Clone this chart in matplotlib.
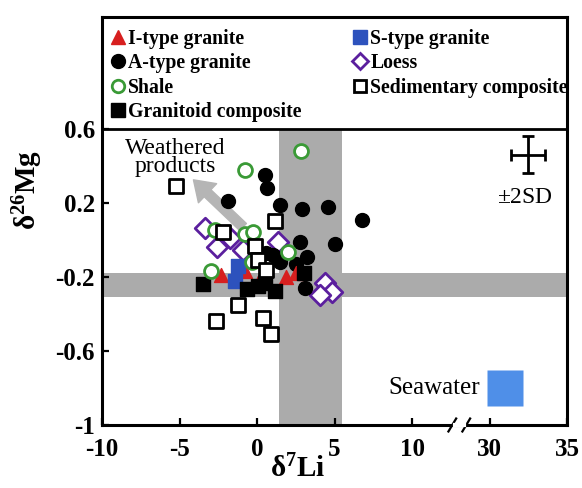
import matplotlib
matplotlib.use('Agg')
import matplotlib.pyplot as plt
from matplotlib.lines import Line2D

plt.rcParams['font.family'] = ['Liberation Serif', 'DejaVu Serif']
plt.rcParams['mathtext.fontset'] = 'custom'
plt.rcParams['mathtext.rm'] = 'Liberation Serif'
plt.rcParams['mathtext.bf'] = 'Liberation Serif:bold'

# d7Li (permil), d26Mg (permil) for each rock group
itype_li = [-2.3, -0.8, 0.3, 1.9, 2.5]
itype_mg = [-0.19, -0.17, -0.19, -0.20, -0.18]

stype_li = [-1.2, -1.4]
stype_mg = [-0.14, -0.22]

atype_li = [0.5, 0.65, -1.9, 1.5, 2.9, 4.6, 6.8, 2.8, 5.0, 1.0, 3.2, 2.5, 3.1, 1.5, 0.6]
atype_mg = [0.35, 0.28, 0.21, 0.19, 0.17, 0.18, 0.11, -0.01, -0.02, -0.08, -0.09,
            -0.13, -0.26, -0.12, -0.07]

loess_li = [-3.35, -2.6, -1.75, -0.9, 1.35, 4.4, 4.85, 4.05]
loess_mg = [0.065, -0.04, 0.01, -0.055, -0.01, -0.23, -0.28, -0.30]

shale_li = [2.85, -0.8, -2.7, -0.8, -0.25, 2.0, -3.0, -0.3]
shale_mg = [0.48, 0.38, 0.055, 0.03, 0.045, -0.065, -0.17, -0.12]

sedcomp_li = [-5.2, 1.15, -2.2, -0.15, 0.05, 0.6, -1.2, -2.65, 0.4, 0.9]
sedcomp_mg = [0.29, 0.10, 0.045, -0.03, -0.11, -0.16, -0.35, -0.44, -0.42, -0.51]

granitoid_li = [-3.5, -0.65, 0.05, 1.15, 3.0, 0.5]
granitoid_mg = [-0.24, -0.265, -0.25, -0.275, -0.18, -0.23]

seawater_li = 31.0
seawater_mg = -0.80

# upper continental crust ranges (grey bands)
crust_li = (1.4, 5.5)
crust_mg = (-0.31, -0.18)

# analytical uncertainty cross
sd_li, sd_mg = 32.5, 0.46
sd_err_li, sd_err_mg = 1.1, 0.10

xtick_vals = [-10, -5, 0, 5, 10, 30, 35]
ytick_vals = [-1, -0.6, -0.2, 0.2, 0.6]
ytick_labels = ['-1', '-0.6', '-0.2', '0.2', '0.6']


def brk(x):
    # squeeze the 10-30 gap of the d7Li axis to 5 units
    if isinstance(x, (list, tuple)):
        return [brk(v) for v in x]
    return x if x <= 10 else x - 15


fig = plt.figure(figsize=(5.82, 4.88), dpi=100)
ax = fig.add_axes([102 / 582, 63 / 488, 465 / 582, 408 / 488])
ax.set_xlim(-10, 20)
ax.set_ylim(-1, 1.205)

band = '#ababab'
ax.fill_betweenx([-1, 0.6], crust_li[0], crust_li[1], color=band, lw=0, zorder=1)
ax.fill_between([-10, 20], crust_mg[0], crust_mg[1], color=band, lw=0, zorder=1)
ax.axhline(0.6, color='black', lw=2, zorder=5)

ax.annotate('', xy=(-4.1, 0.325), xytext=(-0.9, 0.07),
            arrowprops=dict(width=7, headwidth=19, headlength=14,
                            color='#b5b5b5', shrink=0), zorder=2)

ms = 100
red = '#d71f1f'
blue = '#2d52bd'
green = '#3a9a36'
purple = '#5b1f9e'
ax.scatter(brk(loess_li), loess_mg, marker='D', s=110, facecolor='white',
           edgecolor=purple, linewidth=2, zorder=3)
ax.scatter(brk(atype_li), atype_mg, marker='o', s=ms, color='black', zorder=3)
ax.scatter(brk(itype_li), itype_mg, marker='^', s=ms, color=red, zorder=3)
ax.scatter(brk(stype_li), stype_mg, marker='s', s=ms, color=blue, zorder=3)
ax.scatter(brk(granitoid_li), granitoid_mg, marker='s', s=ms, color='black', zorder=3)
ax.scatter(brk(shale_li), shale_mg, marker='o', s=ms, facecolor='white',
           edgecolor=green, linewidth=2, zorder=3)
ax.scatter(brk(sedcomp_li), sedcomp_mg, marker='s', s=ms, facecolor='white',
           edgecolor='black', linewidth=2, zorder=3)

ax.plot(brk(seawater_li), seawater_mg, marker='s', ms=26, color='#4f8fe8',
        mec='none', zorder=3)
ax.text(brk(seawater_li) - 1.6, seawater_mg, 'Seawater', ha='right', va='center',
        fontsize=18)

ax.errorbar(brk(sd_li), sd_mg, xerr=sd_err_li, yerr=sd_err_mg, color='black',
            lw=2, capsize=4, capthick=2, zorder=4)
ax.text(brk(sd_li) - 0.2, 0.23, '$\\pm$2SD', ha='center', va='center', fontsize=17)

ax.text(-5.3, 0.445, 'Weathered\nproducts', ha='center', va='center',
        fontsize=17, linespacing=0.78)

# axis break marks
for xb in (12.6, 13.5):
    ax.plot([xb - 0.25, xb + 0.25], [-1.035, -0.965], color='black', lw=1.6,
            clip_on=False, zorder=6)
ax.plot([12.75, 13.35], [-1, -1], color='white', lw=3, clip_on=False, zorder=6)

for sp in ax.spines.values():
    sp.set_linewidth(2.2)
ax.set_xticks(brk(xtick_vals))
ax.set_xticklabels([str(v) for v in xtick_vals])
ax.set_yticks(ytick_vals)
ax.set_yticklabels(ytick_labels)
ax.tick_params(direction='in', length=5, width=1.6)
ax.tick_params(axis='x', pad=9)
ax.tick_params(axis='y', pad=5)
for lab in ax.get_xticklabels() + ax.get_yticklabels():
    lab.set_fontsize(18)
    lab.set_fontweight('bold')

ax.set_xlabel('$\\mathbf{\\delta^{7}Li}$', fontsize=21)
ax.xaxis.set_label_coords(0.42, -0.072)
ax.set_ylabel('$\\mathbf{\\delta^{26}Mg}$', fontsize=21, va='center')
ax.yaxis.set_label_coords(-0.16, 0.575)

handles = [
    Line2D([], [], ls='none', marker='^', ms=10, color=red),
    Line2D([], [], ls='none', marker='o', ms=10, color='black'),
    Line2D([], [], ls='none', marker='o', ms=9, mfc='white', mec=green, mew=2),
    Line2D([], [], ls='none', marker='s', ms=10, color='black'),
    Line2D([], [], ls='none', marker='s', ms=10, color=blue),
    Line2D([], [], ls='none', marker='D', ms=8, mfc='white', mec=purple, mew=2),
    Line2D([], [], ls='none', marker='s', ms=9, mfc='white', mec='black', mew=2),
]
labels = ['I-type granite', 'A-type granite', 'Shale', 'Granitoid composite',
          'S-type granite', 'Loess', 'Sedimentary composite']
ax.legend(handles, labels, ncol=2, loc='upper left', bbox_to_anchor=(0.0, 0.99),
          frameon=False, handlelength=0.8, handletextpad=0.1, labelspacing=0.22,
          columnspacing=2.6, borderpad=0.2, borderaxespad=0.2,
          prop={'family': 'Liberation Serif', 'weight': 'bold', 'size': 14.2})

fig.savefig('out.png', dpi=100)
